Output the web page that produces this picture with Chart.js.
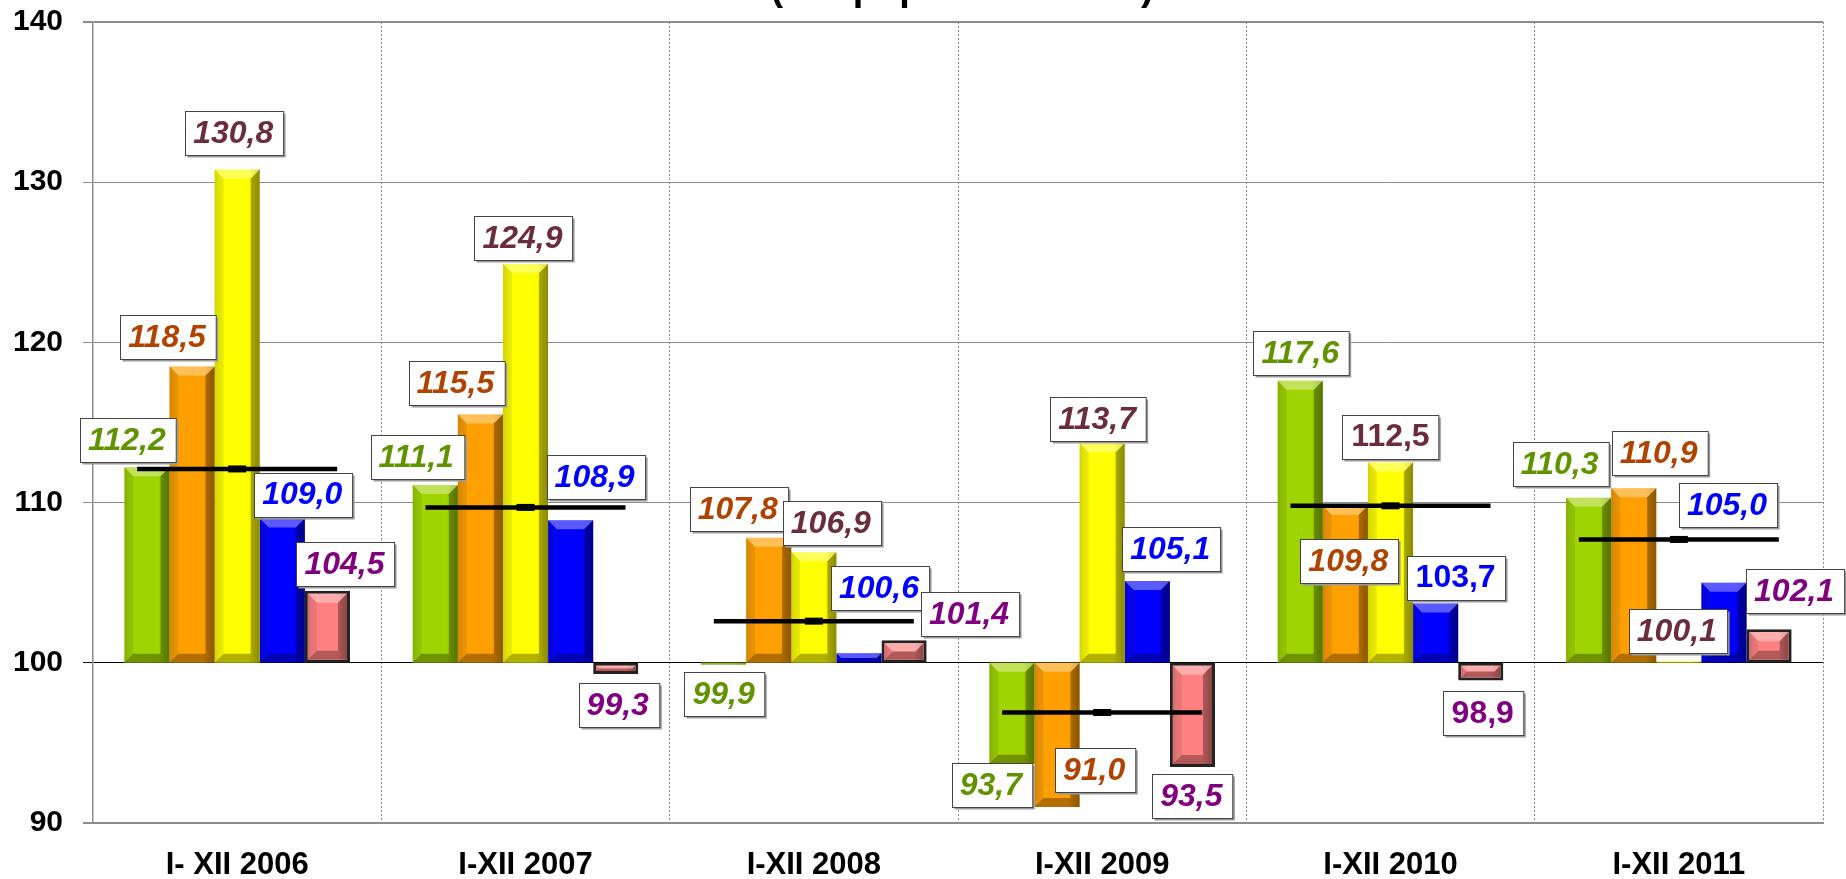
<!DOCTYPE html>
<html>
<head>
<meta charset="utf-8">
<script src="https://cdn.jsdelivr.net/npm/chart.js@4/dist/chart.umd.min.js"></script>
<style>
  html, body { margin: 0; padding: 0; background: #fff; }
  #wrap { width: 1846px; height: 879px; }
</style>
</head>
<body>
<div id="wrap"><canvas id="dynamika" width="1846" height="879"></canvas></div>
<script>
// dane z wykresu (rok poprzedni = 100)
var okresy = ['I- XII 2006', 'I-XII 2007', 'I-XII 2008', 'I-XII 2009', 'I-XII 2010', 'I-XII 2011'];
var seriaZielona = [112.2, 111.1, 99.9, 93.7, 117.6, 110.3];
var seriaPomaranczowa = [118.5, 115.5, 107.8, 91.0, 109.8, 110.9];
var seriaZolta = [130.8, 124.9, 106.9, 113.7, 112.5, 100.1];
var seriaNiebieska = [109.0, 108.9, 100.6, 105.1, 103.7, 105.0];
var seriaRozowa = [104.5, 99.3, 101.4, 93.5, 98.9, 102.1];
var ogolem = [112.1, 109.7, 102.6, 96.9, 109.8, 107.7];
var podstawa = 100;
var tytul = '(rok poprzedni = 100)';

// przesuniecia etykiet [dx, dy] wzgledem pozycji domyslnej
var przesuniecia = [
  [[-19, 0], [-18, -1], [1, 3], [-20, -6], [1, -1], [-28, -7]],
  [[-24, -2], [-24, -4], [-30, -2], [38, -64], [4, 82], [26, -8]],
  [[-3, -9], [-2, 1], [18, -2], [-4, 3], [0, 1], [-1, -3]],
  [[21, 3], [25, -16], [21, -38], [24, -5], [20, 1], [4, -51]],
  [[18, 0], [3, 4], [66, 1], [0, 2], [2, 6], [26, -11]]
];
var etykietyProste = ['2-4', '3-4', '4-4'];

var FONT = 'Arial, "Liberation Sans", sans-serif';
Chart.defaults.font.family = FONT;

function doSlupkow(arr) {
  return arr.map(function (v) { return [podstawa, v]; });
}

var kolory = ['#9fd400', '#ff9f00', '#ffff00', '#0000ff', '#ff8080'];
var koloryEtykiet = ['#5f9400', '#b04300', '#6b2d3b', '#0000ff', '#800080'];

// efekt fazowania slupkow
var fazowanie = {
  id: 'fazowanie',
  afterDatasetDraw: function (chart, args) {
    var meta = args.meta;
    if (meta.type !== 'bar') return;
    var ctx = chart.ctx;
    var bw = chart.data.datasets[args.index].borderWidth || 0;
    meta.data.forEach(function (el) {
      var p = el.getProps(['x', 'y', 'base', 'width'], true);
      var l = p.x - p.width / 2 + bw, r = p.x + p.width / 2 - bw;
      var t = Math.min(p.y, p.base) + bw, b = Math.max(p.y, p.base) - bw;
      if (b - t < 1) return;
      var s = Math.min(9, (b - t) / 2, (r - l) / 2);
      ctx.save();
      function poly(pts, fill) {
        ctx.beginPath();
        ctx.moveTo(pts[0], pts[1]);
        for (var i = 2; i < pts.length; i += 2) ctx.lineTo(pts[i], pts[i + 1]);
        ctx.closePath();
        ctx.fillStyle = fill;
        ctx.fill();
      }
      var g = ctx.createLinearGradient(l, 0, r, 0);
      g.addColorStop(0, 'rgba(0,0,0,0.10)');
      g.addColorStop(0.25, 'rgba(255,255,255,0.0)');
      g.addColorStop(0.75, 'rgba(0,0,0,0.0)');
      g.addColorStop(1, 'rgba(0,0,0,0.22)');
      ctx.fillStyle = g;
      ctx.fillRect(l, t, r - l, b - t);
      poly([l, t, r, t, r - s, t + s, l + s, t + s], 'rgba(255,255,255,0.35)');
      poly([l, t, l + s, t + s, l + s, b - s, l, b], 'rgba(0,0,0,0.08)');
      poly([r, t, r, b, r - s, b - s, r - s, t + s], 'rgba(0,0,0,0.30)');
      poly([l, b, r, b, r - s, b - s, l + s, b - s], 'rgba(0,0,0,0.30)');
      ctx.restore();
    });
  }
};

// etykiety wartosci w ramkach
var etykiety = {
  id: 'etykiety',
  afterDatasetsDraw: function (chart) {
    var ctx = chart.ctx;
    for (var d = 0; d < 5; d++) {
      var meta = chart.getDatasetMeta(d);
      var wartosci = chart.data.datasets[d].wartosci;
      meta.data.forEach(function (el, j) {
        var v = wartosci[j];
        var tekst = v.toFixed(1).replace('.', ',');
        var prosta = etykietyProste.indexOf(d + '-' + j) >= 0;
        ctx.save();
        ctx.font = (prosta ? '' : 'italic ') + 'bold 32px ' + FONT;
        var w = ctx.measureText(tekst).width + 18;
        var h = 44;
        var gora = Math.min(el.y, el.base), dol = Math.max(el.y, el.base);
        var cy = v >= podstawa ? gora - 5 - h / 2 : dol + 5 + h / 2;
        var cx = el.x + przesuniecia[d][j][0];
        cy += przesuniecia[d][j][1];
        var x0 = Math.round(cx - w / 2) + 0.5, y0 = Math.round(cy - h / 2) + 0.5;
        ctx.fillStyle = '#9a9a9a';
        ctx.fillRect(x0 + 2, y0 + 2, w, h);
        ctx.fillStyle = '#fff';
        ctx.fillRect(x0, y0, w, h);
        ctx.strokeStyle = '#444';
        ctx.lineWidth = 1;
        ctx.strokeRect(x0, y0, w, h);
        ctx.fillStyle = koloryEtykiet[d];
        ctx.textAlign = 'center';
        ctx.textBaseline = 'middle';
        ctx.fillText(tekst, cx + (prosta ? 0 : -1), cy + 1);
        ctx.restore();
      });
    }
  }
};

// tytul - widoczna tylko dolna czesc
var naglowek = {
  id: 'naglowek',
  afterDraw: function (chart) {
    var ctx = chart.ctx;
    ctx.save();
    ctx.font = 'bold 38px ' + FONT;
    ctx.fillStyle = '#000';
    ctx.textAlign = 'center';
    ctx.textBaseline = 'alphabetic';
    ctx.fillText(tytul, 962, 0);
    ctx.restore();
  }
};

function zestaw(nazwa, arr, i) {
  return {
    label: nazwa,
    data: doSlupkow(arr),
    wartosci: arr,
    backgroundColor: kolory[i],
    borderColor: i === 4 ? '#222' : kolory[i],
    borderWidth: i === 4 ? 3 : 0,
    borderSkipped: false,
    categoryPercentage: 0.7825,
    barPercentage: 1.0,
    order: 2
  };
}

var ctx = document.getElementById('dynamika');
new Chart(ctx, {
  type: 'bar',
  data: {
    labels: okresy,
    datasets: [
      zestaw('zielona', seriaZielona, 0),
      zestaw('pomaranczowa', seriaPomaranczowa, 1),
      zestaw('zolta', seriaZolta, 2),
      zestaw('niebieska', seriaNiebieska, 3),
      zestaw('rozowa', seriaRozowa, 4),
      {
        type: 'line',
        label: 'ogolem',
        data: ogolem,
        showLine: false,
        pointStyle: 'line',
        pointRadius: 100,
        pointHoverRadius: 100,
        borderColor: '#000',
        backgroundColor: '#000',
        borderWidth: 4.5,
        order: 1
      },
      {
        type: 'line',
        label: 'ogolem-znacznik',
        data: ogolem,
        showLine: false,
        pointStyle: 'line',
        pointRadius: 9,
        pointHoverRadius: 9,
        borderColor: '#000',
        borderWidth: 7,
        order: 0
      }
    ]
  },
  options: {
    responsive: false,
    animation: false,
    layout: { autoPadding: false, padding: { top: 22, right: 23, left: 0, bottom: 0 } },
    plugins: {
      legend: { display: false },
      tooltip: { enabled: false },
      title: { display: false }
    },
    scales: {
      x: {
        ticks: { font: { size: 31, weight: 'bold' }, color: '#000', padding: 24 },
        grid: { color: '#8c8c8c', lineWidth: 1, drawTicks: false, offset: true },
        border: { color: '#8c8c8c', width: 2, dash: [2, 2] },
        afterFit: function (s) { s.height = 56; }
      },
      y: {
        min: 90,
        max: 140,
        ticks: { stepSize: 10, font: { size: 30, weight: 'bold' }, color: '#000', padding: 20 },
        grid: {
          color: function (c) { return c.tick && c.tick.value === podstawa ? '#000' : '#8c8c8c'; },
          lineWidth: function (c) { return c.tick && (c.tick.value === 140 || c.tick.value === 90) ? 2 : 1; },
          tickLength: 10
        },
        border: { color: '#8c8c8c', width: 1.5 },
        afterFit: function (s) { s.width = 93; s.paddingTop = 0; s.paddingBottom = 0; }
      }
    }
  },
  plugins: [fazowanie, etykiety, naglowek]
});
</script>
</body>
</html>
